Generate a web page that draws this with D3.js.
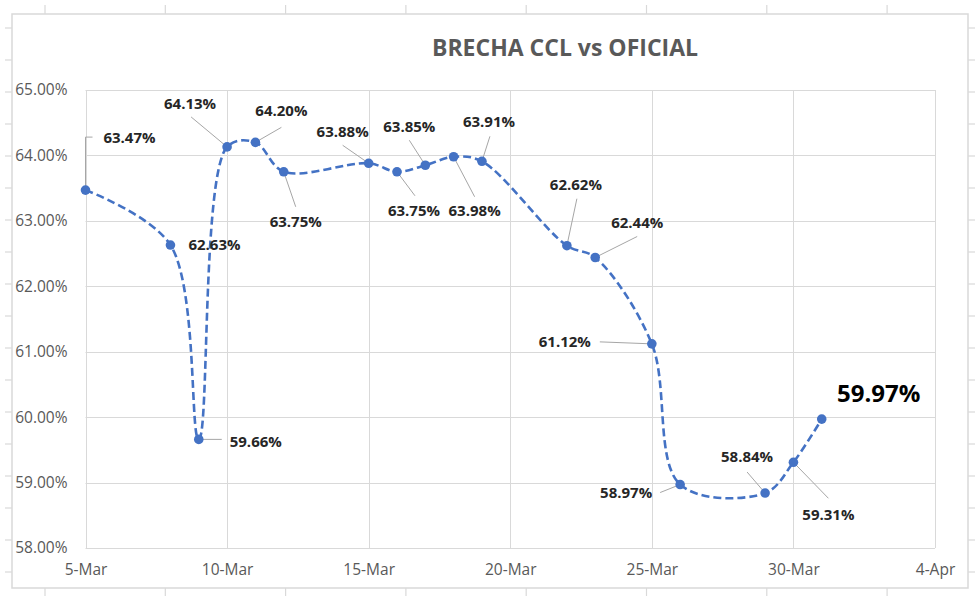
<!DOCTYPE html>
<html>
<head>
<meta charset="utf-8">
<script src="https://cdn.jsdelivr.net/npm/d3@7/dist/d3.min.js"></script>
<style>
  html, body { margin: 0; padding: 0; background: #fff; }
  svg { display: block; }
</style>
</head>
<body>
<svg id="chart" width="980" height="599"></svg>
<script>
// ---------------- DATA ----------------
const title = "BRECHA CCL vs OFICIAL";
const dates = ["2021-03-05","2021-03-08","2021-03-09","2021-03-10","2021-03-11","2021-03-12",
               "2021-03-15","2021-03-16","2021-03-17","2021-03-18","2021-03-19",
               "2021-03-22","2021-03-23","2021-03-25","2021-03-26","2021-03-29","2021-03-30","2021-03-31"];
const values = [63.47, 62.63, 59.66, 64.13, 64.20, 63.75,
                63.88, 63.75, 63.85, 63.98, 63.91,
                62.62, 62.44, 61.12, 58.97, 58.84, 59.31, 59.97];
const xTickDates  = ["2021-03-05","2021-03-10","2021-03-15","2021-03-20","2021-03-25","2021-03-30","2021-04-04"];
const xTickLabels = ["5-Mar","10-Mar","15-Mar","20-Mar","25-Mar","30-Mar","4-Apr"];
const yTickValues = [58, 59, 60, 61, 62, 63, 64, 65];

// ---------------- LAYOUT (label placement, px offsets from the point) ----------------
// [labelCenterDx, labelCenterDy, leaderStart [dx,dy] | "elbow" | null]
const labelLayout = [
  [44, -53, "elbow"],
  [44, 0, null],
  [57, 2, [23, 0]],
  [-37, -43, [-36, -30]],
  [26, -32, [26, -15]],
  [12, 50, [12, 35]],
  [-26, -32, [-26, -18]],
  [17, 39, [18, 24]],
  [-16, -39, [-16, -25]],
  [21, 54, [21, 40]],
  [7, -40, [8, -25]],
  [9, -61, [10, -47]],
  [42, -35, [42, -21]],
  [-87, -2, [-52, -2]],
  [-54, 8, [-20, 8]],
  [-18, -36, [-18, -21]],
  [35, 52, [35, 36]],
  [57, -26, null]
];

// ---------------- DRAW ----------------
const svg = d3.select("#chart");
const W = 980, H = 599;
const FONT = "'Open Sans', 'Liberation Sans', sans-serif";
const parse = s => { const [Y,M,D] = s.split("-").map(Number); return new Date(Date.UTC(Y, M-1, D)); };
const data = dates.map((d, i) => ({ date: parse(d), value: values[i] }));

const plot = { left: 85.5, right: 935, top: 90, bottom: 548 };
const x = d3.scaleUtc().domain([parse(xTickDates[0]), parse(xTickDates[xTickDates.length-1])]).range([plot.left, plot.right]);
const y = d3.scaleLinear().domain([58, 65]).range([plot.bottom, plot.top]);
const fmt = v => d3.format(".2f")(v) + "%";

svg.append("rect").attr("width", W).attr("height", H).attr("fill", "#fff");

// spreadsheet cell-grid fragments outside the chart frame
const frame = { l: 12, t: 14, r: 968, b: 588 };
const outer = svg.append("g").attr("stroke", "#d9d9d9").attr("stroke-width", 1.2);
d3.range(8).forEach(k => {
  const xx = 45 + k * 120.3;
  outer.append("line").attr("x1", xx).attr("x2", xx).attr("y1", 5).attr("y2", frame.t);
  outer.append("line").attr("x1", xx).attr("x2", xx).attr("y1", frame.b).attr("y2", 596);
});
d3.range(18).forEach(k => {
  const yy = 28 + k * 32;
  outer.append("line").attr("x1", 5).attr("x2", frame.l).attr("y1", yy).attr("y2", yy);
  outer.append("line").attr("x1", frame.r).attr("x2", 975).attr("y1", yy).attr("y2", yy);
});
svg.append("rect").attr("x", frame.l).attr("y", frame.t)
  .attr("width", frame.r - frame.l).attr("height", frame.b - frame.t)
  .attr("fill", "#fff").attr("stroke", "#d9d9d9").attr("stroke-width", 1.5);

// gridlines
const grid = svg.append("g").attr("stroke", "#d9d9d9").attr("stroke-width", 1);
yTickValues.forEach(v => grid.append("line")
  .attr("x1", plot.left).attr("x2", plot.right).attr("y1", Math.round(y(v)) + 0.5).attr("y2", Math.round(y(v)) + 0.5));
xTickDates.forEach(d => grid.append("line")
  .attr("x1", Math.round(x(parse(d))) + 0.5).attr("x2", Math.round(x(parse(d))) + 0.5).attr("y1", plot.top).attr("y2", plot.bottom));

// axes
const yAxis = svg.append("g").attr("transform", `translate(${plot.left},0)`)
  .call(d3.axisLeft(y).tickValues(yTickValues).tickFormat(fmt).tickSize(0).tickPadding(18));
const xAxis = svg.append("g").attr("transform", `translate(0,${plot.bottom})`)
  .call(d3.axisBottom(x).tickValues(xTickDates.map(parse)).tickFormat((d, i) => xTickLabels[i]).tickSize(0).tickPadding(16));
[yAxis, xAxis].forEach(a => {
  a.select(".domain").remove();
  a.selectAll("text").attr("fill", "#595959").style("font-family", FONT).style("font-size", "15.5px");
});

// title
svg.append("text").attr("x", 565).attr("y", 48).attr("dy", "0.35em")
  .attr("text-anchor", "middle").attr("fill", "#595959")
  .style("font-family", FONT).style("font-weight", "bold").style("font-size", "23px")
  .text(title);

// leader lines
const leaders = svg.append("g").attr("stroke", "#a6a6a6").attr("stroke-width", 1).attr("fill", "none");
data.forEach((d, i) => {
  const px = x(d.date), py = y(d.value);
  const L = labelLayout[i];
  if (L[2] === "elbow") {
    leaders.append("path").attr("d", `M${px},${py}V${py + L[1]}H${px + 7}`);
  } else if (L[2]) {
    leaders.append("line").attr("x1", px + L[2][0]).attr("y1", py + L[2][1]).attr("x2", px).attr("y2", py);
  }
});

// line
svg.append("path").datum(data)
  .attr("fill", "none").attr("stroke", "#4472C4").attr("stroke-width", 2.6)
  .attr("stroke-dasharray", "8,4")
  .attr("d", d3.line().x(d => x(d.date)).y(d => y(d.value)).curve(d3.curveCatmullRom.alpha(0.5)));

// markers
svg.append("g").selectAll("circle").data(data).join("circle")
  .attr("cx", d => x(d.date)).attr("cy", d => y(d.value)).attr("r", 4.8)
  .attr("fill", "#4472C4");

// data labels
svg.append("g").selectAll("text").data(data).join("text")
  .attr("x", (d, i) => x(d.date) + labelLayout[i][0])
  .attr("y", (d, i) => y(d.value) + labelLayout[i][1])
  .attr("dy", "0.36em").attr("text-anchor", "middle")
  .attr("fill", (d, i) => i === data.length - 1 ? "#000" : "#262626")
  .style("font-family", FONT).style("font-weight", "bold")
  .style("font-size", (d, i) => i === data.length - 1 ? "24px" : "15px")
  .text(d => fmt(d.value));
</script>
</body>
</html>
